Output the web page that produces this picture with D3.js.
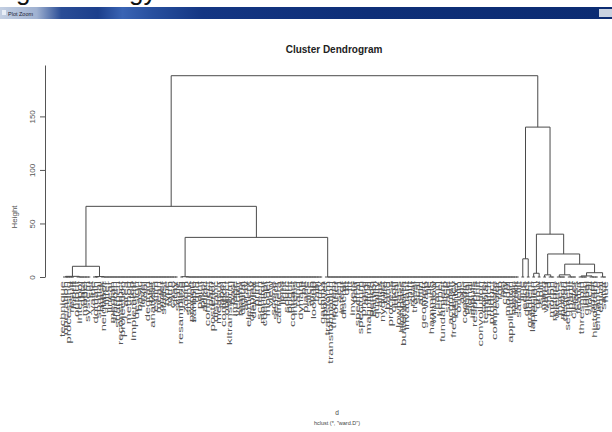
<!DOCTYPE html>
<html><head><meta charset="utf-8">
<script src="https://cdn.jsdelivr.net/npm/d3@7"></script>
<style>
body{margin:0;background:#fff}
svg{display:block}
text{font-family:"Liberation Sans",Arial,sans-serif}
</style>
</head><body>
<svg id="c" width="612" height="432"></svg>
<script>
// ---- data ----
const labels = [
 "technique","operation","processing","result","input","output","interpol","data","model","system",
 "set","value","domain","spatial","mask","neighbor","filter","linear","median","smooth",
 "sharpen","reconstruct","projection","area","method","step","implement","design","basic","level",
 "tool","degrad","blur","analysis","estim","mean","order","statist","type","form",
 "case","gray","scale","resampling","size","zoom","shrink","propert","sample","grid",
 "point","pixel","adjac","connect","path","posterior","distanc","measur","label","compon",
 "object","kltransform","basi","image","vector","matrix","digital","array","element","display",
 "device","print","screen","monitor","concept","model","view","scene","sensor","camera",
 "lens","light","sourc","bright","contrast","intens","rang","dynam","bit","plane",
 "slice","map","lookup","tabl","curv","gamma","power","transform","transformation","theorem",
 "fourier","seri","integr","discret","dft","fft","invers","pair","spectral","spectrum",
 "phase","angl","magnitud","period","sampl","quality","alias","nyquist","rate","band",
 "process","cutoff","ideal","lowpass","highpass","butterworth","invariant","shift","rotat","transl",
 "scal","affin","geometr","warp","tie","hamming","window","hann","kernel","fundament",
 "step","stage","acquisit","frequency","center","origin","axis","coordin","digital","signal",
 "impuls","respons","unit","convolution","correl","templat","match","product","composite","color",
 "rgb","hsi","cmy","model","application","medic","remot","satellit","line","edge",
 "detect","gradient","laplacian","region","grow","split","merg","water","shed","morph",
 "restore","wiener","invers","motion","degrad","segment","partit","cluster","class","featur",
 "threshold","otsu","global","local","adapt","histogram","enhance","equal","satur","hue"
];
// sizes of the blocks of leaves that join at height 0 (in leaf order)
const blockSizes = [5,6,3,29,2,51,72,2,2,2,2,2,3,4,4,4,4,3];
// merges: [left, right, height]; "b#" = block, "m#" = earlier merge
const merges = [
 ["b0","b1",0.6], ["b2","b3",0.4], ["m0","m1",10], ["b4","b5",0.3],
 ["m3","b6",37], ["m2","m4",66], ["b7","b8",17], ["b9","b10",3.5],
 ["b11","b12",2], ["b13","b14",2], ["b15","b16",1], ["m10","b17",4],
 ["m9","m11",12], ["m8","m12",21.5], ["m7","m13",40], ["m6","m14",140],
 ["m5","m15",188]
];
const yTicks = [0,50,100,150];

// ---- build tree ----
let idx = 0;
const blocks = blockSizes.map(n => {
  const leaves = d3.range(n).map(() => ({name: labels[idx], index: idx++, height: 0}));
  let node = leaves[n-1];
  for (let k = n-2; k >= 0; k--) node = {children: [leaves[k], node], height: 0};
  return node;
});
const ms = [];
const getNode = s => s[0] === "b" ? blocks[+s.slice(1)] : ms[+s.slice(1)];
merges.forEach(([a,b,h]) => ms.push({children: [getNode(a), getNode(b)], height: h}));
const root = d3.hierarchy(ms[ms.length-1]);

const x = d3.scaleLinear().domain([0, labels.length-1]).range([63, 606]);
const y = d3.scaleLinear().domain([0, 198]).range([277, 65]);

root.eachAfter(n => {
  n.px = n.children ? d3.mean(n.children, c => c.px) : x(n.data.index);
  n.py = y(n.data.height);
});

const svg = d3.select("#c");

// ---- window chrome (screenshot) ----
const defs = svg.append("defs");
const g1 = defs.append("linearGradient").attr("id","bar");
[["0%","#c3cfe2"],["6%","#9fb1d1"],["10%","#2a4d96"],["16%","#1c3f8c"],["20%","#3a64b4"],
 ["25%","#274f9e"],["33%","#143683"],["60%","#0e2f78"],["100%","#0c2c72"]]
 .forEach(([o,c]) => g1.append("stop").attr("offset",o).attr("stop-color",c));
svg.append("rect").attr("x",0).attr("y",7).attr("width",612).attr("height",12).attr("fill","url(#bar)");
svg.append("rect").attr("x",2).attr("y",10).attr("width",4).attr("height",5).attr("fill","#e8eef6");
svg.append("text").attr("x",8).attr("y",15.5).attr("font-size",5.5).attr("fill","#223").text("Plot Zoom");
svg.append("rect").attr("x",599).attr("y",9).attr("width",13).attr("height",8).attr("fill","#c9d2e0");
svg.append("text").attr("x",16).attr("y",0).attr("font-size",26).attr("font-family","Liberation Serif")
  .attr("fill","#111").text("g");
svg.append("text").attr("x",129).attr("y",0).attr("font-size",26).attr("font-family","Liberation Serif")
  .attr("fill","#111").text("gy");

// ---- title ----
svg.append("text").attr("x",334).attr("y",53).attr("text-anchor","middle")
  .attr("font-size",10).attr("font-weight","bold").attr("fill","#222").text("Cluster Dendrogram");

// ---- dendrogram ----
const links = root.descendants().filter(n => n.children);
svg.append("g").selectAll("path").data(links).join("path")
  .attr("d", n => {
    const [a,b] = n.children;
    return `M${a.px},${a.py}V${n.py}H${b.px}V${b.py}`;
  })
  .attr("fill","none").attr("stroke","#4a4a4a").attr("stroke-width",1);

// ---- leaf labels (screenshot is stretched along the rotated text) ----
svg.append("g").selectAll("text").data(root.leaves()).join("text")
  .attr("transform", d => `translate(${d.px + 2.4},281) rotate(-90) scale(1.85,1)`)
  .attr("text-anchor","end").attr("font-size",7).attr("fill","#555")
  .text(d => d.data.name);

// ---- axis ----
const ax = svg.append("g").attr("transform","translate(45,0)")
  .call(d3.axisLeft(y).tickValues(yTicks).tickSize(5).tickSizeOuter(0));
ax.select(".domain").attr("stroke","#555");
ax.selectAll(".tick line").attr("stroke","#555");
ax.selectAll(".tick text").attr("x",null).attr("dy",null)
  .attr("transform","translate(-10,0) rotate(-90)").attr("text-anchor","middle")
  .attr("font-size",8).attr("fill","#555").attr("font-family","Liberation Sans");
svg.append("text").attr("transform","translate(17,217) rotate(-90)").attr("text-anchor","middle")
  .attr("font-size",8).attr("fill","#555").text("Height");

// ---- x label / sub ----
svg.append("text").attr("x",337).attr("y",415).attr("text-anchor","middle")
  .attr("font-size",6.5).attr("fill","#444").text("d");
svg.append("text").attr("x",337).attr("y",425).attr("text-anchor","middle")
  .attr("font-size",5.5).attr("fill","#444").text('hclust (*, "ward.D")');
</script>
</body></html>
